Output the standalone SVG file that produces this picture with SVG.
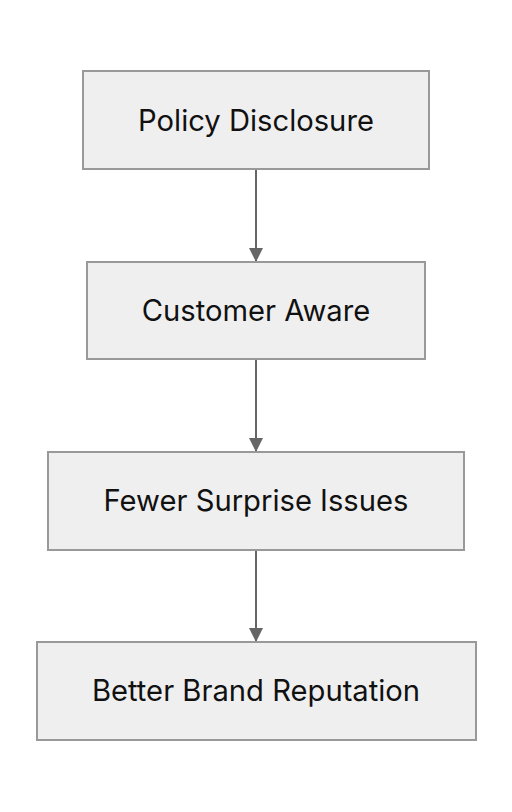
<svg xmlns="http://www.w3.org/2000/svg" width="512" height="812" viewBox="0 0 512 812">
<style>
.node rect{fill:#efefef;stroke:#999999;stroke-width:2}
.node text{font-family:Inter,"Noto Sans",sans-serif;font-size:29.2px;fill:#111111;text-anchor:middle}
.edge{stroke:#666666;stroke-width:2;fill:none}
</style>
<defs>
<marker id="arr" markerWidth="14" markerHeight="14" refX="13" refY="7" orient="auto" markerUnits="userSpaceOnUse">
<path d="M0,0 L14,7 L0,14 Z" fill="#666666"/>
</marker>
</defs>
<rect width="512" height="812" fill="#ffffff"/>
<g id="edges">
<line class="edge" x1="256" y1="170" x2="256" y2="261" marker-end="url(#arr)"/>
<line class="edge" x1="256" y1="360" x2="256" y2="451" marker-end="url(#arr)"/>
<line class="edge" x1="256" y1="550" x2="256" y2="641" marker-end="url(#arr)"/>
</g>
<g id="n1" class="node"><rect x="83" y="71" width="346" height="98"/><text x="256" y="131">Policy Disclosure</text></g>
<g id="n2" class="node"><rect x="87" y="262" width="338" height="97"/><text x="256" y="321">Customer Aware</text></g>
<g id="n3" class="node"><rect x="48" y="452" width="416" height="98"/><text x="256" y="511">Fewer Surprise Issues</text></g>
<g id="n4" class="node"><rect x="37" y="642" width="439" height="98"/><text x="256" y="701">Better Brand Reputation</text></g>
</svg>
